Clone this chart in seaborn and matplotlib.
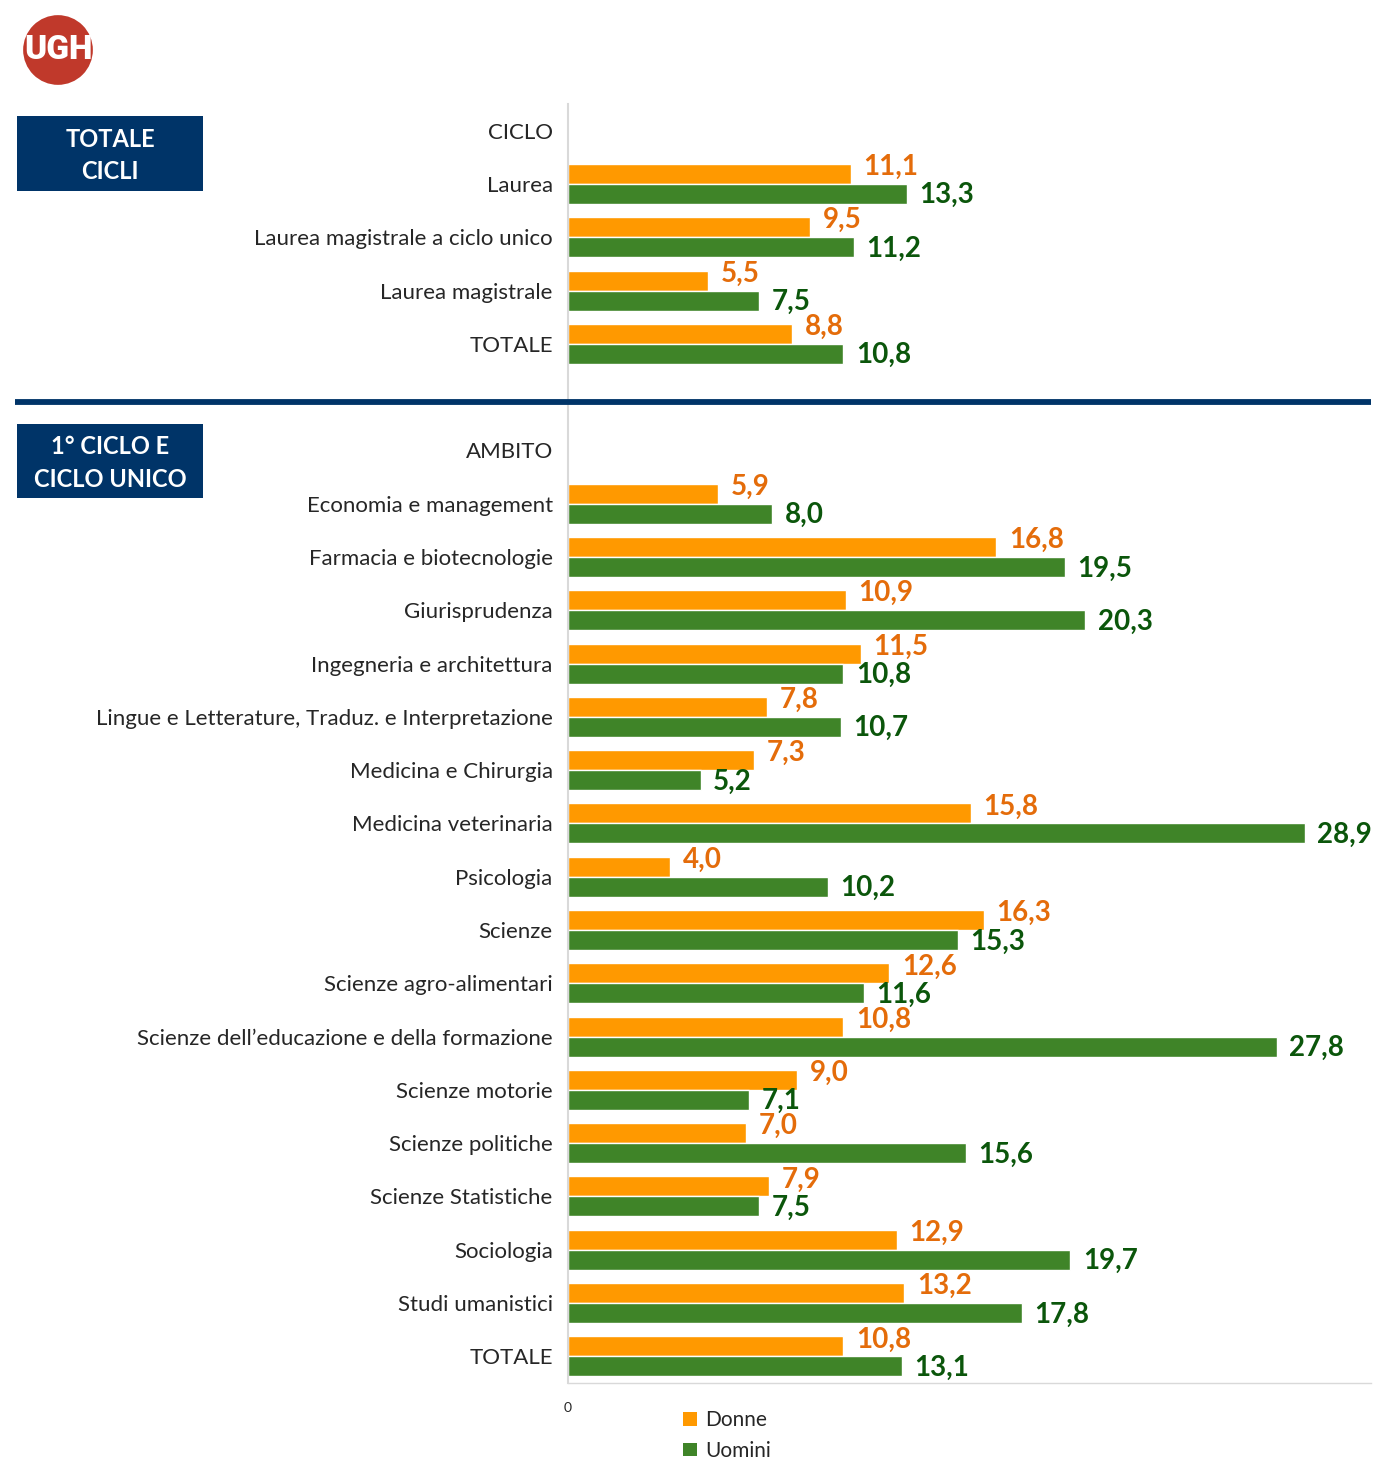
import matplotlib
matplotlib.use("Agg")
import matplotlib.pyplot as plt
from matplotlib.patches import Rectangle, Circle, Patch
from matplotlib.lines import Line2D
import seaborn as sns
import pandas as pd

# ---- data -------------------------------------------------------------
cicli = ["Laurea", "Laurea magistrale a ciclo unico", "Laurea magistrale", "TOTALE"]
cicli_donne = [11.1, 9.5, 5.5, 8.8]
cicli_uomini = [13.3, 11.2, 7.5, 10.8]

ambiti = [
    "Economia e management",
    "Farmacia e biotecnologie",
    "Giurisprudenza",
    "Ingegneria e architettura",
    "Lingue e Letterature, Traduz. e Interpretazione",
    "Medicina e Chirurgia",
    "Medicina veterinaria",
    "Psicologia",
    "Scienze",
    "Scienze agro-alimentari",
    "Scienze dell\u2019educazione e della formazione",
    "Scienze motorie",
    "Scienze politiche",
    "Scienze Statistiche",
    "Sociologia",
    "Studi umanistici",
    "TOTALE",
]
ambiti_donne = [5.9, 16.8, 10.9, 11.5, 7.8, 7.3, 15.8, 4.0, 16.3, 12.6, 10.8,
                9.0, 7.0, 7.9, 12.9, 13.2, 10.8]
ambiti_uomini = [8.0, 19.5, 20.3, 10.8, 10.7, 5.2, 28.9, 10.2, 15.3, 11.6, 27.8,
                 7.1, 15.6, 7.5, 19.7, 17.8, 13.1]

series = ["Donne", "Uomini"]

# ---- colours ----------------------------------------------------------
ORANGE = "#FF9900"
GREEN = "#3F8428"
ORANGE_TXT = "#E46C0A"
GREEN_TXT = "#0B560B"
NAVY = "#003468"
GRID_GREY = "#D9D9D9"
TEXT_GREY = "#262626"

# ---- rows: section header, categories, spacer -------------------------
row_labels = ["CICLO"] + cicli + [""] + ["AMBITO"] + ambiti
row_keys = [f"r{i:02d}" for i in range(len(row_labels))]

records = []
offset_c = 1
for i, name in enumerate(cicli):
    key = row_keys[offset_c + i]
    records.append((key, "Donne", cicli_donne[i]))
    records.append((key, "Uomini", cicli_uomini[i]))
offset_a = 1 + len(cicli) + 2
for i, name in enumerate(ambiti):
    key = row_keys[offset_a + i]
    records.append((key, "Donne", ambiti_donne[i]))
    records.append((key, "Uomini", ambiti_uomini[i]))
df = pd.DataFrame(records, columns=["riga", "sesso", "valore"])

# ---- figure -----------------------------------------------------------
sns.set_theme(style="white")
plt.rcParams["font.family"] = ["Lato", "DejaVu Sans"]

W, H = 1376, 1459
fig = plt.figure(figsize=(W / 100, H / 100), dpi=100)
ax = fig.add_axes([568 / W, 1 - 1383 / H, (1371 - 568) / W, (1383 - 104) / H])

sns.barplot(data=df, y="riga", x="valore", hue="sesso", order=row_keys,
            hue_order=series, palette=[ORANGE, GREEN], orient="h",
            width=0.75, dodge=True, legend=False, saturation=1,
            errorbar=None, ax=ax)

ax.set_xlim(0, 31.5)
ax.set_ylim(len(row_keys) - 0.5, -0.5)
ax.set_yticks(range(len(row_keys)))
ax.set_yticklabels(row_labels, fontsize=16, color=TEXT_GREY)
ax.set_xticks([0])
ax.set_xticklabels(["0"], fontsize=10, color=TEXT_GREY)
ax.tick_params(axis="y", length=0, pad=11)
ax.tick_params(axis="x", length=0, pad=14)
ax.set_xlabel("")
ax.set_ylabel("")
for s in ("top", "right"):
    ax.spines[s].set_visible(False)
ax.spines["left"].set_color(GRID_GREY)
ax.spines["left"].set_linewidth(1.5)
ax.spines["bottom"].set_color(GRID_GREY)
ax.spines["bottom"].set_linewidth(1.0)

# value labels at the end of each bar
label_style = {"Donne": (ORANGE_TXT, 5), "Uomini": (GREEN_TXT, -1)}
for cont, name in zip(ax.containers, series):
    colour, dy = label_style[name]
    for bar in cont:
        w = bar.get_width()
        if not w == w:  # NaN
            continue
        ax.annotate(f"{w:.1f}".replace(".", ","),
                    (w, bar.get_y() + bar.get_height() / 2),
                    xytext=(9, dy), textcoords="offset points",
                    ha="left", va="center", fontsize=20, fontweight="bold",
                    color=colour, annotation_clip=False)

# section divider
fig.add_artist(Line2D([15 / W, 1371 / W], [1 - 402 / H, 1 - 402 / H],
                      color=NAVY, linewidth=4.2, solid_capstyle="butt"))

# section header boxes
for (y0, y1, txt) in [(116, 191, "TOTALE\nCICLI"), (424, 498, "1\u00b0 CICLO E\nCICLO UNICO")]:
    fig.add_artist(Rectangle((17 / W, 1 - y1 / H), (203 - 17) / W, (y1 - y0) / H,
                             transform=fig.transFigure, facecolor=NAVY,
                             edgecolor="none"))
    fig.text(110 / W, 1 - (y0 + y1 + 4) / 2 / H, txt, ha="center", va="center",
             color="white", fontsize=17, fontweight="bold", linespacing=1.5)

# logo
lax = fig.add_axes([20 / W, 1 - 88 / H, 76 / W, 76 / H])
lax.set_xlim(-1.09, 1.09)
lax.set_ylim(-1.09, 1.09)
lax.set_aspect("equal")
lax.axis("off")
lax.add_patch(Circle((0, 0), 1, facecolor="#C0392B", edgecolor="none"))
lax.text(0.02, 0.0, "UGH", ha="center", va="center", color="white",
         fontsize=24, fontweight="heavy", family=["Roboto", "DejaVu Sans"])

# legend
handles = [Patch(facecolor=ORANGE, edgecolor="none", label="Donne"),
           Patch(facecolor=GREEN, edgecolor="none", label="Uomini")]
leg = fig.legend(handles=handles, loc="upper left",
                 bbox_to_anchor=(673 / W, 1 - 1400 / H), frameon=False,
                 fontsize=15, handlelength=0.65, handleheight=0.65,
                 handletextpad=0.4, labelspacing=0.5, borderpad=0.0)
for t in leg.get_texts():
    t.set_color(TEXT_GREY)

fig.savefig("out.png", dpi=100, facecolor="white")
